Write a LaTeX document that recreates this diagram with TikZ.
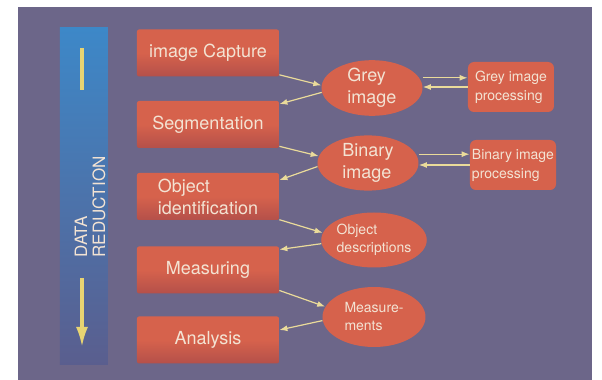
\documentclass[tikz,border=0pt]{standalone}
\usepackage{fontspec}
\setmainfont{TeX Gyre Heros}
\usetikzlibrary{shapes.geometric,arrows.meta}
\definecolor{panel}{HTML}{6C6689}
\definecolor{boxred}{HTML}{D6624C}
\definecolor{boxdark}{HTML}{B4504A}
\definecolor{cream}{HTML}{F3E3D3}
\definecolor{pale}{HTML}{EADB9A}
\definecolor{barblue}{HTML}{3D88C8}
\definecolor{barlow}{HTML}{5A5E8E}
\definecolor{arrowyel}{HTML}{E8D472}
\begin{document}
\begin{tikzpicture}[x=0.5pt,y=-0.5pt,
    box/.style={rectangle,rounded corners=1pt,top color=boxred,bottom color=boxdark,middle color=boxred,
      text=cream,minimum width=71pt,minimum height=23.5pt,inner sep=1pt,align=left,
      font=\fontsize{9}{11}\selectfont},
    blob/.style={ellipse,fill=boxred,text=cream,inner sep=0pt,minimum width=50.5pt,minimum height=27pt,
      align=left,font=\fontsize{9}{11}\selectfont},
    smalltext/.style={font=\fontsize{7}{9}\selectfont},
    procbox/.style={rectangle,rounded corners=3pt,fill=boxred,text=cream,minimum width=43pt,
      minimum height=25pt,inner sep=1pt,align=left,font=\fontsize{7}{9.5}\selectfont},
    arr/.style={draw=pale,line width=0.6pt,-{Latex[length=4pt,width=3pt]}}]
  \useasboundingbox (0,0) rectangle (602,380);
  \fill[white] (0,0) rectangle (602,380);
  \fill[panel] (18,7) rectangle (592,380);
  % data reduction bar
  \shade[top color=barblue,bottom color=barlow] (60,28) rectangle (108,365);
  \draw[arrowyel,line width=1.6pt] (82,48) -- (82,90);
  \draw[arrowyel,line width=1.6pt,-{Latex[length=10pt,width=6pt]}] (82,278) -- (82,347);
  \node[rotate=90,align=left,text=cream,font=\fontsize{8.5}{9}\selectfont] (label) at (90,207) {DATA\\REDUCTION};
  % steps
  \node[box] (cap) at (208,53) {image Capture};
  \node[box] (seg) at (208,124.5) {Segmentation};
  \node[box] (obj) at (208,196.5) {Object\\identification};
  \node[box] (meas) at (208,270) {Measuring};
  \node[box] (ana) at (208,340) {Analysis};
  % data
  \node[blob] (grey) at (372,88) {Grey\\image};
  \node[blob] (bin) at (368,163) {Binary\\image};
  \node[blob,smalltext,minimum width=51.5pt,minimum height=27.5pt] (desc) at (374,240) {Object\\descriptions};
  \node[blob,smalltext,minimum width=51.5pt,minimum height=30pt] (ments) at (374,317) {Measure-\\ments};
  \node[procbox] (gproc) at (511,87) {Grey image\\processing};
  \node[procbox] (bproc) at (513,165) {Binary image\\processing};
  % flow
  \draw[arr] (cap.-17) -- (grey.177);
  \draw[arr] (grey.185) -- (seg.16);
  \draw[arr] (seg.-17) -- (bin.172);
  \draw[arr] (bin.184) -- (obj.13);
  \draw[arr] (obj.-18) -- (desc.172);
  \draw[arr] (desc.184) -- (meas.16);
  \draw[arr] (meas.-16) -- (ments.168);
  \draw[arr] (ments.184) -- (ana.8);
  \draw[arr] (grey.east |- gproc.168) -- (gproc.168);
  \draw[arr] (gproc.west) -- (grey.east |- gproc.west);
  \draw[arr] (bin.east |- bproc.166) -- (bproc.166);
  \draw[arr] (bproc.west) -- (bin.east |- bproc.west);
\end{tikzpicture}
\end{document}
